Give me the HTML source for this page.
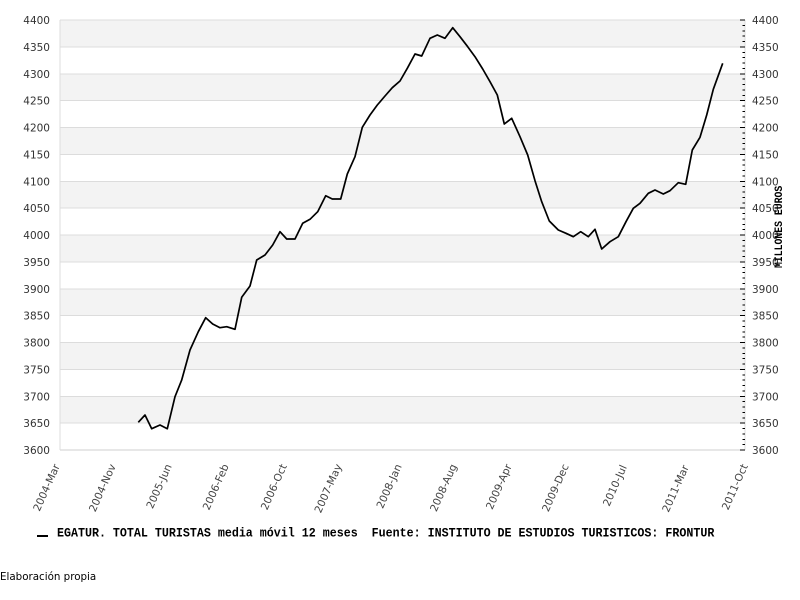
<!DOCTYPE html>
<html><head><meta charset="utf-8">
<style>
html,body{margin:0;padding:0;background:#fff;}
svg{display:block;}
</style></head>
<body>
<svg width="800" height="600" xmlns="http://www.w3.org/2000/svg">
<rect x="0" y="0" width="800" height="600" fill="#fff"/>
<g fill="#f3f3f3">
<rect x="60" y="20" width="685" height="26.875"/>
<rect x="60" y="73.75" width="685" height="26.875"/>
<rect x="60" y="127.5" width="685" height="26.875"/>
<rect x="60" y="181.25" width="685" height="26.875"/>
<rect x="60" y="235" width="685" height="26.875"/>
<rect x="60" y="288.75" width="685" height="26.875"/>
<rect x="60" y="342.5" width="685" height="26.875"/>
<rect x="60" y="396.25" width="685" height="26.875"/>
</g>
<g stroke="#dcdcdc" stroke-width="1" shape-rendering="crispEdges">
<line x1="60" x2="745" y1="20" y2="20"/>
<line x1="60" x2="745" y1="46.875" y2="46.875"/>
<line x1="60" x2="745" y1="73.75" y2="73.75"/>
<line x1="60" x2="745" y1="100.625" y2="100.625"/>
<line x1="60" x2="745" y1="127.5" y2="127.5"/>
<line x1="60" x2="745" y1="154.375" y2="154.375"/>
<line x1="60" x2="745" y1="181.25" y2="181.25"/>
<line x1="60" x2="745" y1="208.125" y2="208.125"/>
<line x1="60" x2="745" y1="235" y2="235"/>
<line x1="60" x2="745" y1="261.875" y2="261.875"/>
<line x1="60" x2="745" y1="288.75" y2="288.75"/>
<line x1="60" x2="745" y1="315.625" y2="315.625"/>
<line x1="60" x2="745" y1="342.5" y2="342.5"/>
<line x1="60" x2="745" y1="369.375" y2="369.375"/>
<line x1="60" x2="745" y1="396.25" y2="396.25"/>
<line x1="60" x2="745" y1="423.125" y2="423.125"/>
<line x1="60" x2="745" y1="450" y2="450" stroke="#cfcfcf"/>
<line x1="60" x2="60" y1="20" y2="450"/>
<line x1="745" x2="745" y1="20" y2="450"/>
</g>
<g id="ticks" stroke="#000" stroke-width="1" shape-rendering="crispEdges"></g>
<polyline fill="none" stroke="#000" stroke-width="1.7" stroke-linejoin="round" points="138.3,422.3 145,415 151.7,428.7 160,425 167.3,428.7 175,396.7 181.7,380 190,350 198.3,331.7 205.7,317.7 212.7,324 220,327.7 226.7,326.7 235,329.3 241.7,297.3 250,286 256.7,260 265,255 272.7,245 280,231.7 286.7,239 295,239 302.7,223.3 310,219.3 317.7,211.7 325.7,195.7 332.3,199 340.7,199 347.3,174 355,156.7 362.3,127.3 370,115 377.3,105 385,96 392.3,87.7 400,81 407.3,68.3 415,54 421.7,56 430,38.3 437.3,35 445,38.3 452.7,27.7 460,36.7 467.7,46.7 475,56.7 482.7,69 490,81.7 497.3,95 504.3,124 511.7,118.3 520,136.7 527.7,155 535,180.7 541.7,201.7 549.3,221 558.3,230 566,233.3 573.3,236.7 580.7,231.7 588.3,236.7 595,229.3 601.7,249 610,241.7 618.3,236.7 626,221.7 633.3,208.3 640,203.3 648.3,193.3 655,190 663.3,194 670,190.7 678.3,182.7 685.7,184.3 692.3,150 700,137.3 706.7,115 713.3,89.3 722.7,63.3"/>
<g font-family="DejaVu Sans, Liberation Sans, sans-serif" font-size="10.5" fill="#333" text-anchor="end">
<text x="50" y="24">4400</text>
<text x="50" y="50.9">4350</text>
<text x="50" y="77.8">4300</text>
<text x="50" y="104.6">4250</text>
<text x="50" y="131.5">4200</text>
<text x="50" y="158.4">4150</text>
<text x="50" y="185.3">4100</text>
<text x="50" y="212.1">4050</text>
<text x="50" y="239">4000</text>
<text x="50" y="265.9">3950</text>
<text x="50" y="292.8">3900</text>
<text x="50" y="319.6">3850</text>
<text x="50" y="346.5">3800</text>
<text x="50" y="373.4">3750</text>
<text x="50" y="400.3">3700</text>
<text x="50" y="427.1">3650</text>
<text x="50" y="454">3600</text>
</g>
<g font-family="DejaVu Sans, Liberation Sans, sans-serif" font-size="10.5" fill="#333" text-anchor="start">
<text x="752" y="24">4400</text>
<text x="752" y="50.9">4350</text>
<text x="752" y="77.8">4300</text>
<text x="752" y="104.6">4250</text>
<text x="752" y="131.5">4200</text>
<text x="752" y="158.4">4150</text>
<text x="752" y="185.3">4100</text>
<text x="752" y="212.1">4050</text>
<text x="752" y="239">4000</text>
<text x="752" y="265.9">3950</text>
<text x="752" y="292.8">3900</text>
<text x="752" y="319.6">3850</text>
<text x="752" y="346.5">3800</text>
<text x="752" y="373.4">3750</text>
<text x="752" y="400.3">3700</text>
<text x="752" y="427.1">3650</text>
<text x="752" y="454">3600</text>
</g>
<g font-family="DejaVu Sans, Liberation Sans, sans-serif" font-size="10.5" fill="#444" text-anchor="end">
<text transform="translate(60,466) rotate(-66)">2004-Mar</text>
<text transform="translate(116,466) rotate(-66)">2004-Nov</text>
<text transform="translate(172,466) rotate(-66)">2005-Jun</text>
<text transform="translate(229,466) rotate(-66)">2006-Feb</text>
<text transform="translate(287,466) rotate(-66)">2006-Oct</text>
<text transform="translate(342,466) rotate(-66)">2007-May</text>
<text transform="translate(402,466) rotate(-66)">2008-Jan</text>
<text transform="translate(457,466) rotate(-66)">2008-Aug</text>
<text transform="translate(512,466) rotate(-66)">2009-Apr</text>
<text transform="translate(569,466) rotate(-66)">2009-Dec</text>
<text transform="translate(627,467) rotate(-66)">2010-Jul</text>
<text transform="translate(689,467) rotate(-66)">2011-Mar</text>
<text transform="translate(748,466) rotate(-66)">2011-Oct</text>
</g>
<text transform="translate(782,268) rotate(-90) scale(1,1.15)" font-family="Liberation Mono, DejaVu Sans Mono, monospace" font-weight="bold" font-size="9.8" fill="#000">MILLONES EUROS</text>
<rect x="37" y="535" width="11" height="2" fill="#000"/>
<text x="57" y="536.7" transform="translate(0,-53.7) scale(1,1.1)" font-family="Liberation Mono, DejaVu Sans Mono, monospace" font-weight="bold" font-size="11.67" fill="#000" xml:space="preserve">EGATUR. TOTAL TURISTAS media móvil 12 meses  Fuente: INSTITUTO DE ESTUDIOS TURISTICOS: FRONTUR</text>
<text x="0" y="580" font-family="DejaVu Sans, Liberation Sans, sans-serif" font-size="10.3" fill="#000">Elaboración propia</text>
</svg>
<script>
(function(){
var g=document.getElementById('ticks');var ns='http://www.w3.org/2000/svg';
for(var i=0;i<=80;i++){var y=450-i*5.375;var l=document.createElementNS(ns,'line');
var major=(i%5==0);l.setAttribute('x1',major?740:742.5);l.setAttribute('x2',745);
l.setAttribute('y1',y);l.setAttribute('y2',y);g.appendChild(l);}
})();
</script>
</body></html>
